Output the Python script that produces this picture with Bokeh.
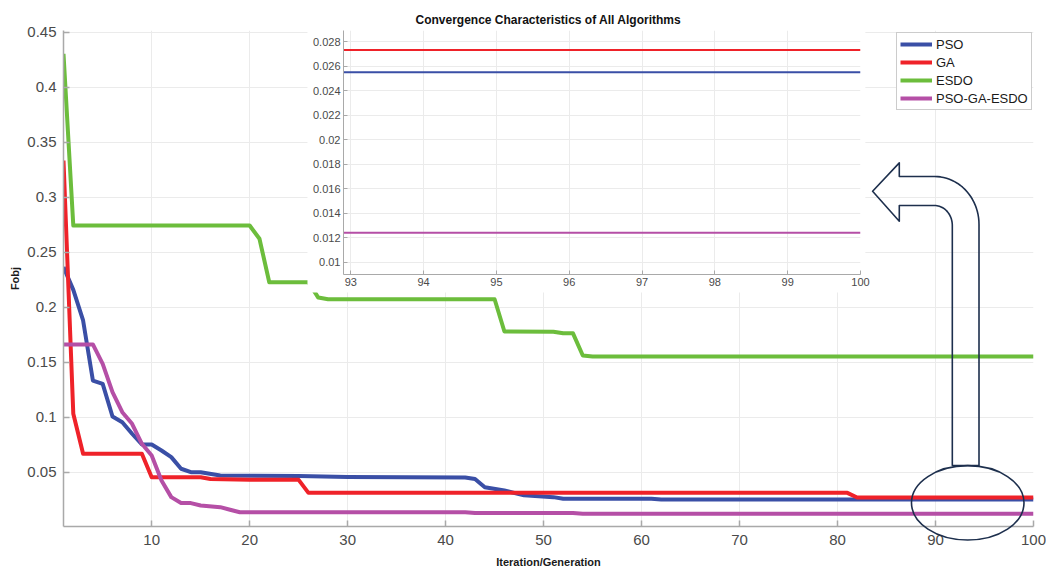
import numpy as np
from bokeh.plotting import figure
from bokeh.models import Range1d, FixedTicker, Legend, LegendItem, BoxAnnotation, GlobalInlineStyleSheet
from bokeh.layouts import column
from bokeh.embed import file_html
from bokeh.resources import INLINE

# ---------------- data (vertices of each convergence curve) ----------------
pso_iter = [1, 2, 3, 4, 5, 6, 7, 8, 9, 10, 11, 12, 13, 14, 15, 17, 25, 30, 42, 43, 44, 46, 48, 51, 52, 61, 62, 100]
pso_fobj = [0.2367, 0.2160, 0.1882, 0.1336, 0.1306, 0.1009, 0.0957, 0.0852, 0.0755, 0.0755, 0.0700, 0.0640,
            0.0534, 0.0503, 0.0503, 0.0473, 0.0468, 0.0460, 0.0455, 0.0440, 0.0365, 0.0336, 0.0292, 0.0276,
            0.0262, 0.0262, 0.0255, 0.0255]

ga_iter = [1, 2, 3, 9, 10, 15, 16, 20, 25, 26, 81, 82, 100]
ga_fobj = [0.3336, 0.1034, 0.0670, 0.0670, 0.0457, 0.0457, 0.0440, 0.0433, 0.0433, 0.0315, 0.0315, 0.0273, 0.0273]

esdo_iter = [1, 2, 20, 21, 22, 26, 27, 28, 45, 46, 51, 52, 53, 54, 55, 100]
esdo_fobj = [0.4306, 0.2745, 0.2745, 0.2625, 0.2230, 0.2230, 0.2090, 0.2075, 0.2075, 0.1782, 0.1780, 0.1765,
             0.1765, 0.1564, 0.1555, 0.1555]

hyb_iter = [1, 4, 5, 6, 7, 8, 9, 10, 11, 12, 13, 14, 15, 17, 18, 19, 42, 43, 53, 54, 100]
hyb_fobj = [0.1664, 0.1664, 0.1488, 0.1230, 0.1048, 0.0943, 0.0761, 0.0655, 0.0427, 0.0276, 0.0222, 0.0222,
            0.0200, 0.0185, 0.0161, 0.0139, 0.0139, 0.0132, 0.0132, 0.0124, 0.0124]

series_names = ["PSO", "GA", "ESDO", "PSO-GA-ESDO"]
series_colors = ["#3a4fa6", "#ef2229", "#6cbd3c", "#b54fa6"]

x_ticks = [10, 20, 30, 40, 50, 60, 70, 80, 90, 100]
x_tick_labels = ["10", "20", "30", "40", "50", "60", "70", "80", "90", "100"]
y_ticks = [0.05, 0.1, 0.15, 0.2, 0.25, 0.3, 0.35, 0.4, 0.45]
y_tick_labels = ["0.05", "0.1", "0.15", "0.2", "0.25", "0.3", "0.35", "0.4", "0.45"]

inset_x_ticks = [93, 94, 95, 96, 97, 98, 99, 100]
inset_x_tick_labels = ["93", "94", "95", "96", "97", "98", "99", "100"]
inset_y_ticks = [0.01, 0.012, 0.014, 0.016, 0.018, 0.02, 0.022, 0.024, 0.026, 0.028]
inset_y_tick_labels = ["0.01", "0.012", "0.014", "0.016", "0.018", "0.02", "0.022", "0.024", "0.026", "0.028"]

FONT = "Liberation Sans"
AXIS_GRAY = "#a9a9a9"
LABEL_GRAY = "#4a4a4a"
GRID = "#ebebeb"
ANNOT = "#1d2f4d"

series = [(pso_iter, pso_fobj), (ga_iter, ga_fobj), (esdo_iter, esdo_fobj), (hyb_iter, hyb_fobj)]

# main axes geometry (pixels)
FW, FH = 970, 496
MB_L, MB_R, MB_T, MB_B = 63, 21, 30, 45
X0, X1 = 1, 100
Y0, Y1 = 0.0009, 0.4518

no_scroll = GlobalInlineStyleSheet(css="html, body { overflow: hidden !important; }")


def style_axes(fig, tick_size, ticks_x, labels_x, ticks_y, labels_y, tick_len, standoff):
    fig.xaxis.ticker = FixedTicker(ticks=ticks_x)
    fig.yaxis.ticker = FixedTicker(ticks=ticks_y)
    fig.xaxis.major_label_overrides = {float(t): l for t, l in zip(ticks_x, labels_x)}
    fig.yaxis.major_label_overrides = {float(t): l for t, l in zip(ticks_y, labels_y)}
    for ax in (fig.xaxis[0], fig.yaxis[0]):
        ax.axis_line_color = AXIS_GRAY
        ax.axis_line_width = 1.5
        ax.major_tick_line_color = AXIS_GRAY
        ax.major_tick_line_width = 1.5
        ax.major_tick_in = tick_len
        ax.major_tick_out = 0
        ax.minor_tick_line_color = None
        ax.major_label_text_font = FONT
        ax.major_label_text_font_size = tick_size
        ax.major_label_text_color = LABEL_GRAY
        ax.major_label_standoff = standoff
        ax.axis_label_text_font = FONT
        ax.axis_label_text_font_size = "11px"
        ax.axis_label_text_font_style = "bold"
        ax.axis_label_text_color = "#1a1a1a"
    fig.xgrid.grid_line_color = GRID
    fig.ygrid.grid_line_color = GRID
    fig.outline_line_color = None


# ---------------- main figure ----------------
p = figure(frame_width=FW, frame_height=FH, x_range=Range1d(X0, X1), y_range=Range1d(Y0, Y1),
           output_backend="svg", toolbar_location=None,
           min_border_left=MB_L, min_border_right=MB_R, min_border_top=MB_T, min_border_bottom=MB_B,
           background_fill_color="white", border_fill_color="white",
           title="Convergence Characteristics of All Algorithms")
p.title.align = "center"
p.title.text_font = FONT
p.title.text_font_size = "12px"
p.title.text_font_style = "bold"
p.title.text_color = "#111111"
p.title.standoff = 7

style_axes(p, "15px", x_ticks, x_tick_labels, y_ticks, y_tick_labels, 6, 8)
p.xaxis.axis_label = "Iteration/Generation"
p.yaxis.axis_label = "Fobj"
p.xaxis.axis_label_standoff = 8
p.yaxis.axis_label_standoff = 3
p.yaxis.major_label_standoff = 7

renderers = []
for (xs, ys), c in zip(series, series_colors):
    r = p.line(xs, ys, line_color=c, line_width=4, line_join="round")
    renderers.append(r)

# white panel behind the inset (hides the main grid and curves there)
p.add_layout(BoxAnnotation(left=25.90, right=82.84, bottom=0.2136, top=0.4554,
                           fill_color="white", fill_alpha=1.0, line_color=None))

legend = Legend(items=[LegendItem(label=n, renderers=[r]) for n, r in zip(series_names, renderers)],
                location=(833, 416))
legend.label_text_font = FONT
legend.label_text_font_size = "13px"
legend.label_text_color = "#1a1a1a"
legend.glyph_width = 32
legend.glyph_height = 16
legend.label_height = 16
legend.label_standoff = 4
legend.spacing = 2
legend.padding = 3
legend.margin = 0
legend.border_line_color = "#9a9a9a"
legend.border_line_width = 1
legend.background_fill_color = "white"
legend.background_fill_alpha = 1.0
p.add_layout(legend)

# ---------------- inset figure ----------------
IN_BL, IN_BR, IN_BT, IN_BB = 60, 20, 4, 22
IN_FW, IN_FH = 517, 244
inset = figure(frame_width=IN_FW, frame_height=IN_FH,
               x_range=Range1d(92.9, 100), y_range=Range1d(0.009, 0.0289),
               output_backend="svg", toolbar_location=None,
               min_border_left=IN_BL, min_border_right=IN_BR, min_border_top=IN_BT, min_border_bottom=IN_BB,
               background_fill_color="white", border_fill_color="white", border_fill_alpha=0.0,
               styles={"position": "absolute", "left": f"{340 - IN_BL}px", "top": f"{30 - IN_BT}px",
                       "z-index": "5"})
style_axes(inset, "11px", inset_x_ticks, inset_x_tick_labels, inset_y_ticks, inset_y_tick_labels, 4, 3)
for ax in (inset.xaxis[0], inset.yaxis[0]):
    ax.axis_line_width = 1
    ax.major_tick_line_width = 1
for (xs, ys), c in zip(series, series_colors):
    inset.line(xs, ys, line_color=c, line_width=2)

# ---------------- transparent overlay with the ellipse and bent arrow (same data scale) ----------------
OV_W = MB_L + FW + MB_R
OV_H = MB_T + FH + MB_B
OV_PAD = 20
OV_EXTRA = 16
sx = (X1 - X0) / FW
sy = (Y1 - Y0) / FH
ov = figure(width=OV_W + OV_PAD + OV_EXTRA, height=OV_H,
            x_range=Range1d(X0 - MB_L * sx, X1 + MB_R * sx), y_range=Range1d(Y0 - MB_B * sy, Y1 + MB_T * sy),
            output_backend="svg", toolbar_location=None,
            min_border_left=0, min_border_right=OV_PAD, min_border_top=0, min_border_bottom=0,
            x_axis_location=None, y_axis_location=None,
            background_fill_alpha=0.0, border_fill_alpha=0.0,
            styles={"position": "absolute", "left": "0px", "top": "0px", "z-index": "6",
                    "pointer-events": "none"})
ov.outline_line_color = None
ov.grid.visible = False

ov.ellipse(x=94.85, y=0.0224, width=12.48, height=0.0676, fill_color=None,
           line_color=ANNOT, line_width=1.6)

a_tip = (84.30, 0.3057)
a_head_x = 87.26
a_head_top, a_head_bot = 0.3315, 0.2784
a_shaft_top, a_shaft_bot = 0.3191, 0.2927
a_bend_x = 91.17
a_out_x, a_in_x = 96.10, 93.14
a_bottom = 0.0563
ang_o = np.linspace(np.pi / 2, 0, 24)
ang_i = np.linspace(0, np.pi / 2, 24)
out_cy = a_shaft_top - 0.0436
in_cy = a_shaft_bot - 0.0182
ax_list = [a_tip[0], a_head_x, a_head_x, a_bend_x]
ay_list = [a_tip[1], a_head_top, a_shaft_top, a_shaft_top]
ax_list += list(a_bend_x + (a_out_x - a_bend_x) * np.cos(ang_o))
ay_list += list(out_cy + 0.0436 * np.sin(ang_o))
ax_list += [a_out_x, a_in_x]
ay_list += [a_bottom, a_bottom]
ax_list += list(a_bend_x + (a_in_x - a_bend_x) * np.cos(ang_i))
ay_list += list(in_cy + 0.0182 * np.sin(ang_i))
ax_list += [a_head_x, a_head_x, a_tip[0]]
ay_list += [a_shaft_bot, a_head_bot, a_tip[1]]
ov.patch(ax_list, ay_list, fill_color=None, line_color=ANNOT, line_width=1.6, line_join="round")

layout = column(p, inset, ov, styles={"position": "relative"}, stylesheets=[no_scroll])

open("out.html", "w").write(file_html(layout, INLINE))
